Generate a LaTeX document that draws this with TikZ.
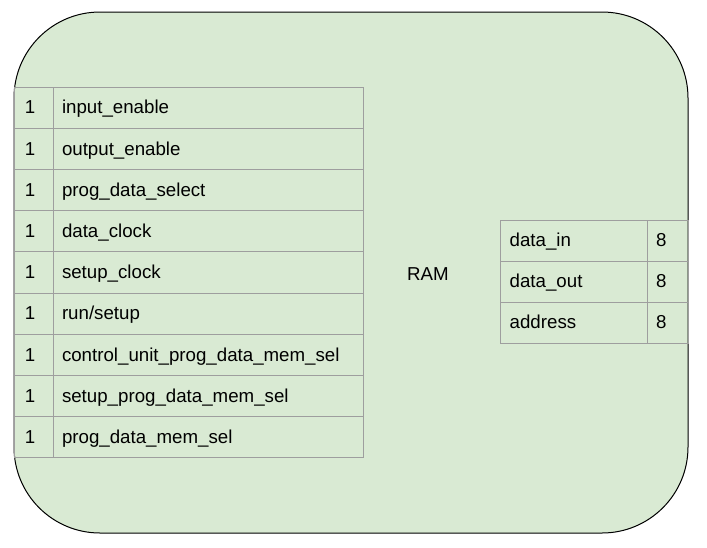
\documentclass[tikz,border=0pt]{standalone}
\usepackage{fontspec}
\setmainfont{Liberation Sans}
\definecolor{ramgreen}{HTML}{D9EAD3}
\definecolor{cellgray}{HTML}{9E9E9E}

\begin{document}
\begin{tikzpicture}[x=1pt,y=-1pt,font=\fontsize{18.7}{22}\selectfont,
  cell/.style={draw=cellgray,line width=1pt},
  celltext/.style={anchor=base west,inner sep=0pt}]
\useasboundingbox (0,0) rectangle (707,547);
\draw[fill=ramgreen,line width=1pt,rounded corners=86pt] (14,12) rectangle (688,533);
\node[anchor=base,inner sep=0pt] (ram) at (428,280.5) {RAM};
% control signals, one row each
\foreach \y/\lab [count=\r] in {
  87.0/input\_enable,
  128.2/output\_enable,
  169.4/prog\_data\_select,
  210.6/data\_clock,
  251.8/setup\_clock,
  293.0/{run/setup},
  334.2/control\_unit\_prog\_data\_mem\_sel,
  375.4/setup\_prog\_data\_mem\_sel,
  416.6/prog\_data\_mem\_sel}{
  \draw[cell] (14,\y) rectangle ++(39,41.2);
  \draw[cell] (53,\y) rectangle ++(310,41.2);
  \node[celltext] (bit\r) at (24.7,\y+26.8) {1};
  \node[celltext] (sig\r) at (61.8,\y+26.8) {\lab};
}
% buses on the right
\foreach \y/\lab [count=\r] in {
  220/data\_in,
  261/data\_out,
  302/address}{
  \draw[cell] (500,\y) rectangle ++(147,41);
  \draw[cell] (647,\y) rectangle ++(41,41);
  \node[celltext] (bus\r) at (509.5,\y+26.8) {\lab};
  \node[celltext] (width\r) at (656,\y+26.8) {8};
}
\end{tikzpicture}
\end{document}
